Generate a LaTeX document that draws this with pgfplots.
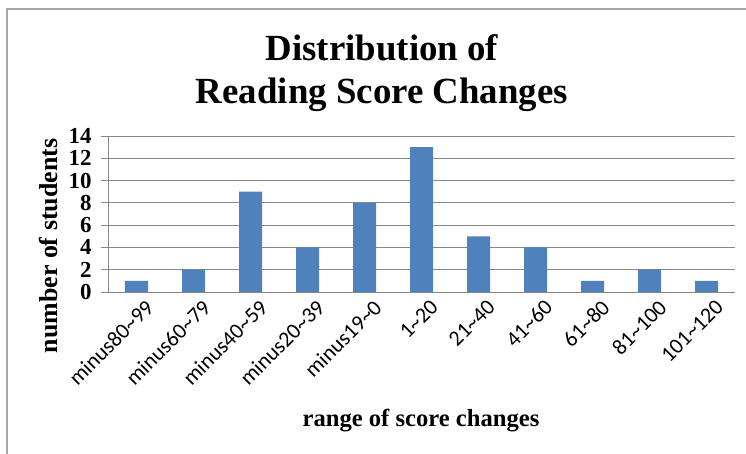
\documentclass[border=0pt]{standalone}
\usepackage{fontspec}
\setmainfont{Liberation Serif}
\newfontfamily\carlito{Carlito}
\usepackage{pgfplots}
\pgfplotsset{compat=1.18}
\definecolor{barblue}{HTML}{4F81BD}
\definecolor{gridgray}{HTML}{878787}
\begin{document}
\begin{tikzpicture}[x=1bp,y=1bp]
\useasboundingbox (-108,-162) rectangle (638,292);
\draw[gray!70, line width=1.2bp] (-101,-162) -- (-101,283) -- (638,283);
\begin{axis}[
  at={(0,0)}, anchor=south west,
  scale only axis, width=627bp, height=156bp,
  xmin=-0.5, xmax=10.5, ymin=0, ymax=14,
  axis x line*=bottom, axis y line*=left,
  axis line style={gridgray, line width=0.8bp, -},
  ymajorgrids, grid style={gridgray, line width=0.8bp},
  ytick={0,2,...,14},
  xtick={0,...,10},
  xticklabels={minus80\textasciitilde99,minus60\textasciitilde79,minus40\textasciitilde59,minus20\textasciitilde39,minus19\textasciitilde0,1\textasciitilde20,21\textasciitilde40,41\textasciitilde60,61\textasciitilde80,81\textasciitilde100,101\textasciitilde120},
  x tick label style={font=\carlito\fontsize{22}{24}\selectfont, rotate=45, anchor=north east, inner sep=1bp, xshift=7bp, yshift=-4bp},
  y tick label style={font=\bfseries\fontsize{23}{25}\selectfont, xshift=-6bp},
  /pgf/number format/assume math mode=true,
  ytick style={gridgray, line width=0.8bp},
  xtick style={draw=none},
  tick align=outside, major tick length=7bp,
  clip=false,
]
\addplot[ybar, bar width=23bp, fill=barblue, draw=none] coordinates {
  (0,1) (1,2) (2,9) (3,4) (4,8) (5,13) (6,5) (7,4) (8,1) (9,2) (10,1)
};
\end{axis}
\node[anchor=north, align=center, font=\bfseries\fontsize{37}{43}\selectfont] at (274,261) {Distribution of\\Reading Score Changes};
\node[rotate=90, font=\bfseries\fontsize{26}{30}\selectfont] at (-59,46) {number of students};
\node[font=\bfseries\fontsize{24.7}{28}\selectfont] at (313,-129) {range of score changes};
\end{tikzpicture}
\end{document}
